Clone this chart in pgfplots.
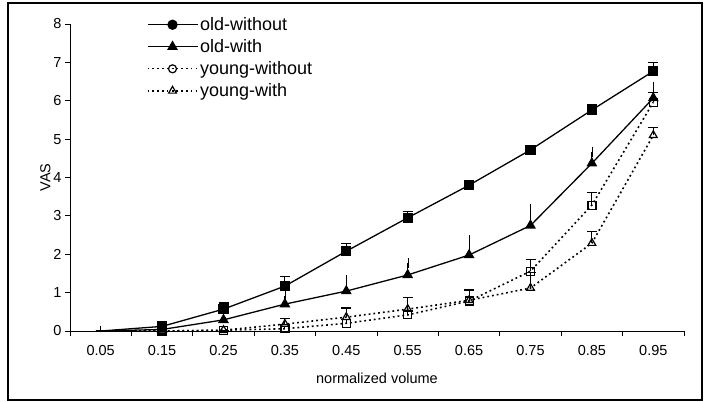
\documentclass[border=0pt]{standalone}
\usepackage{pgfplots}
\pgfplotsset{compat=1.18}
\usepackage{pgfplotstable}
\usepackage{fontspec}
\setmainfont{Liberation Sans}

\pgfplotstableread{
x ow   owe  owi  owie yw   ywe  ywi  ywie
0 0    0    0    0    0    0    0    0
1 0.12 0.05 0.04 0    0    0    0    0
2 0.57 0.16 0.29 0.05 0.02 0    0.02 0
3 1.17 0.24 0.70 0.20 0.06 0.05 0.18 0.15
4 2.08 0.21 1.04 0.29 0.20 0.10 0.36 0.24
5 2.95 0.17 1.46 0.31 0.42 0.10 0.57 0.31
6 3.80 0.05 1.98 0.38 0.78 0.30 0.80 0.25
7 4.72 0.05 2.75 0.42 1.56 0.30 1.12 0.40
8 5.76 0.13 4.37 0.30 3.28 0.34 2.29 0.31
9 6.77 0.23 6.07 0.30 5.96 0.25 5.10 0.20
}\vasdata

\begin{document}
\begin{tikzpicture}[x=1pt,y=1pt]
\path (-70,-71) rectangle (635,331);
\draw[line width=1.2pt] (-62,-69) rectangle (632,328);
\begin{axis}[
    at={(0,0)}, anchor=south west,
    width=614pt, height=307pt, scale only axis,
    xmin=-0.5, xmax=9.5, ymin=0, ymax=8,
    axis lines=left, axis line style={-, line width=0.9pt},
    xtick={0,...,9},
    xticklabels={0.05,0.15,0.25,0.35,0.45,0.55,0.65,0.75,0.85,0.95},
    major x tick style={draw=none},
    minor xtick={-0.5,0.5,...,9.5},
    ytick={0,...,8},
    tick align=outside, major tick length=5pt, minor tick length=5pt,
    tick style={black, line width=0.9pt},
    ticklabel style={font=\fontsize{14.5}{16}\selectfont},
    xticklabel style={yshift=-6pt},
    /pgf/number format/assume math mode=true,
    xlabel={normalized volume}, ylabel={VAS},
    label style={font=\fontsize{14.5}{16}\selectfont},
    xlabel style={yshift=-10pt},
    ylabel style={yshift=-4pt},
    legend style={draw=none, fill=none, at={(0.12,1.035)}, anchor=north west,
        font=\fontsize{18}{20}\selectfont, row sep=3.5pt},
    legend cell align=left,
    legend image code/.code={\draw[mark repeat=2,mark phase=2,#1]
        plot coordinates {(0pt,0pt) (25pt,0pt) (50pt,0pt)};},
    every axis plot/.append style={black, line width=1.3pt},
    error bars/y dir=plus, error bars/y explicit,
    error bars/error bar style={solid, line width=1.1pt},
    error bars/error mark options={solid, rotate=90, mark size=5pt, line width=1.1pt},
]
\addlegendimage{solid, mark=*, mark size=4.5pt}
\addlegendimage{solid, mark=triangle*, mark size=5pt}
\addlegendimage{line width=1.3pt, dash pattern=on 1.6pt off 3.2pt, mark=o, mark size=4pt, mark options={solid, line width=1.2pt}}
\addlegendimage{line width=1.3pt, dash pattern=on 1.6pt off 3.2pt, mark=triangle, mark size=4.5pt, mark options={solid, line width=1.2pt}}

\addplot[solid, mark=square*, mark size=4.5pt, mark indices={2,...,10}, forget plot]
    table[x=x, y=ow, y error=owe] {\vasdata};
\addplot[solid, mark=triangle*, mark size=5pt, mark indices={2,...,10}, forget plot,
    error bars/error mark options={draw=none}]
    table[x=x, y=owi, y error=owie] {\vasdata};
\addplot[line width=1.6pt, dash pattern=on 1.8pt off 3pt, mark=square, mark size=4pt, mark indices={2,...,10},
    mark options={solid, fill=white, line width=1.2pt}, forget plot]
    table[x=x, y=yw, y error=ywe] {\vasdata};
\addplot[line width=1.6pt, dash pattern=on 1.8pt off 3pt, mark=triangle, mark size=4.5pt, mark indices={2,...,10},
    mark options={solid, fill=white, line width=1.2pt}, forget plot]
    table[x=x, y=ywi, y error=ywie] {\vasdata};
\legend{old-without, old-with, young-without, young-with}
\end{axis}
\end{tikzpicture}
\end{document}
